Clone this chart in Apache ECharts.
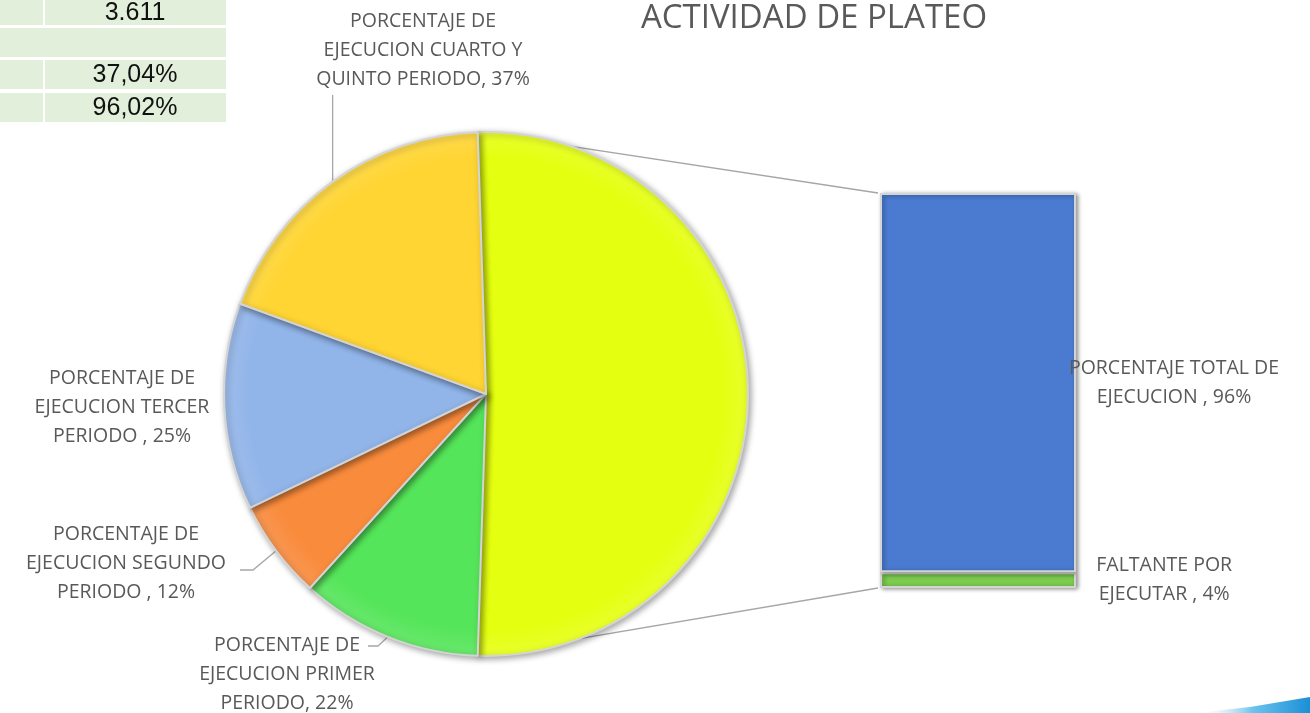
<!DOCTYPE html>
<html>
<head>
<meta charset="utf-8">
<script src="https://cdn.jsdelivr.net/npm/echarts@6/dist/echarts.min.js"></script>
<style>
    html, body { margin: 0; padding: 0; background: #fff; }
    #chart { width: 1310px; height: 713px; }
</style>
</head>
<body>
<div id="chart"></div>
<script>
// datos del grafico
const pieNames = [
    'PORCENTAJE DE\nEJECUCION PRIMER\nPERIODO',
    'PORCENTAJE DE\nEJECUCION SEGUNDO\nPERIODO ',
    'PORCENTAJE DE\nEJECUCION TERCER\nPERIODO ',
    'PORCENTAJE DE\nEJECUCION CUARTO Y\nQUINTO PERIODO'
];
const pieValues = [22, 12, 25, 37.04];
const pieColors = ['#55e55a', '#f98b3c', '#91b4e9', '#ffd533'];
const otherColor = '#e5ff10';

const barNames = ['FALTANTE POR\nEJECUTAR ', 'PORCENTAJE TOTAL DE\nEJECUCION '];
const barValues = [3.98, 96.02];
const barColors = ['#7ccc4f', '#4a7bd1'];

const tableValues = ['3.611', '', '37,04%', '96,02%'];

// layout
const FONT = '"Open Sans", "Noto Sans", sans-serif';
const TXT = '#595959';
const LBL = 19.5;
const CX = 486, CY = 394, R = 262;
const GRID = { left: 880, top: 193, width: 196, height: 395 };

const otherValue = barValues.reduce((a, b) => a + b, 0);
const total = otherValue + pieValues.reduce((a, b) => a + b, 0);
const half = otherValue / total * 180;

// posicion de etiquetas: centro y codo/fin de la guia
const labelPos = {
    1: { c: [287, 674], line: [[378, 646], [368, 646]] },
    2: { c: [126, 563], line: [[253, 570], [240, 570]] },
    3: { c: [122, 407], line: null },
    4: { c: [423, 50], line: 'up' }
};

function shade(color) {
    return {
        type: 'radial', x: CX, y: CY, r: R, global: true,
        colorStops: [
            { offset: 0, color: color },
            { offset: 0.9, color: color },
            { offset: 1, color: echarts.color.lift(color, 0.12) }
        ]
    };
}

function edgePoint(deg) {
    const a = deg * Math.PI / 180;
    return [CX + R * Math.sin(a), CY - R * Math.cos(a)];
}

const pieData = [{
    name: 'OTRO', value: otherValue,
    itemStyle: { color: shade(otherColor) },
    label: { show: false }, labelLine: { show: false }
}];
pieNames.forEach((n, i) => {
    pieData.push({ name: n, value: pieValues[i], itemStyle: { color: shade(pieColors[i]) } });
});

const topPt = edgePoint(90 - half);
const botPt = edgePoint(90 + half);

const chart = echarts.init(document.getElementById('chart'));

const graphic = [];
// tabla
const cells = [
    [0, 0, 43, 25], [45, 0, 181, 25],
    [0, 28, 226, 29],
    [0, 60, 43, 29], [45, 60, 181, 29],
    [0, 93, 43, 29], [45, 93, 181, 29]
];
cells.forEach(c => {
    graphic.push({ type: 'rect', shape: { x: c[0], y: c[1], width: c[2], height: c[3] },
        style: { fill: '#e2efda' }, silent: true, z: 0 });
});
const rowY = [13, 42, 75, 108];
tableValues.forEach((t, i) => {
    if (!t) return;
    graphic.push({ type: 'text', x: 135, y: rowY[i], silent: true, z: 1,
        style: { text: t, font: '25px "Liberation Sans", Arial, sans-serif', fill: '#111',
            align: 'center', verticalAlign: 'middle', textAlign: 'center', textVerticalAlign: 'middle' } });
});
// titulo
graphic.push({ type: 'text', x: 814, y: 19, silent: true,
    style: { text: 'ACTIVIDAD DE PLATEO', font: '33px ' + FONT, fill: TXT,
        align: 'center', verticalAlign: 'middle', textAlign: 'center', textVerticalAlign: 'middle' } });
// lineas de union
graphic.push({ type: 'line', silent: true, z: 0,
    shape: { x1: topPt[0], y1: topPt[1], x2: GRID.left - 2, y2: GRID.top },
    style: { stroke: '#a6a6a6', lineWidth: 1.3 } });
graphic.push({ type: 'line', silent: true, z: 0,
    shape: { x1: botPt[0], y1: botPt[1], x2: GRID.left - 2, y2: GRID.top + GRID.height },
    style: { stroke: '#a6a6a6', lineWidth: 1.3 } });
// adorno esquina
graphic.push({ type: 'polygon', silent: true,
    shape: { points: [[1195, 713], [1250, 707], [1310, 697], [1310, 713]] },
    style: { fill: new echarts.graphic.LinearGradient(0, 0, 1, 0, [
        { offset: 0, color: 'rgba(255,255,255,0)' },
        { offset: 0.5, color: '#6cc3ee' },
        { offset: 1, color: '#1b8fd6' }
    ]) } });

const labelFmt = p => (p.seriesType === 'pie' ? p.name : p.seriesName) + ', ' + Math.round(p.value) + '%';

const option = {
    animation: false,
    backgroundColor: '#fff',
    textStyle: { fontFamily: FONT },
    graphic: graphic,
    grid: GRID,
    xAxis: { type: 'category', data: ['barra'], show: false },
    yAxis: { type: 'value', min: 0, max: 100, show: false },
    series: [
        {
            type: 'pie',
            center: [CX, CY],
            radius: R,
            startAngle: half,
            clockwise: true,
            silent: true,
            data: pieData,
            itemStyle: {
                borderColor: '#d4d4d4', borderWidth: 2,
                shadowBlur: 6, shadowColor: 'rgba(0,0,0,0.35)', shadowOffsetX: 2, shadowOffsetY: 2
            },
            label: {
                show: true, formatter: labelFmt, overflow: 'none', edgeDistance: 0,
                color: TXT, fontSize: LBL, lineHeight: 29, fontFamily: FONT, align: 'center'
            },
            labelLine: { show: true, lineStyle: { color: '#a6a6a6', width: 1.3 } },
            labelLayout: function (p) {
                const lp = labelPos[p.dataIndex];
                if (!lp) return {};
                const e = p.labelLinePoints ? p.labelLinePoints[0] : [CX, CY];
                let pts;
                if (lp.line === 'up') {
                    pts = [e, [e[0], 95], [e[0], 95]];
                } else if (lp.line) {
                    pts = [e, lp.line[0], lp.line[1]];
                } else {
                    pts = [e, e, e];
                }
                return { x: lp.c[0], y: lp.c[1], align: 'center', verticalAlign: 'middle', labelLinePoints: pts };
            }
        },
        {
            type: 'bar', name: barNames[0], stack: 'total', barWidth: '100%', silent: true,
            data: [barValues[0]],
            itemStyle: { color: barColors[0], borderColor: '#d4d4d4', borderWidth: 2,
                shadowBlur: 4, shadowColor: 'rgba(0,0,0,0.4)', shadowOffsetX: 2, shadowOffsetY: 1 },
            label: { show: true, position: ['145%', '50%'], align: 'center', verticalAlign: 'middle',
                formatter: labelFmt, color: TXT, fontSize: LBL, lineHeight: 29, fontFamily: FONT }
        },
        {
            type: 'bar', name: barNames[1], stack: 'total', barWidth: '100%', silent: true,
            data: [barValues[1]],
            itemStyle: { color: barColors[1], borderColor: '#d4d4d4', borderWidth: 2,
                shadowBlur: 4, shadowColor: 'rgba(0,0,0,0.4)', shadowOffsetX: 2, shadowOffsetY: 1 },
            label: { show: true, position: ['150%', '50%'], align: 'center', verticalAlign: 'middle',
                formatter: labelFmt, color: TXT, fontSize: LBL, lineHeight: 29, fontFamily: FONT }
        }
    ]
};

chart.setOption(option);
</script>
</body>
</html>
